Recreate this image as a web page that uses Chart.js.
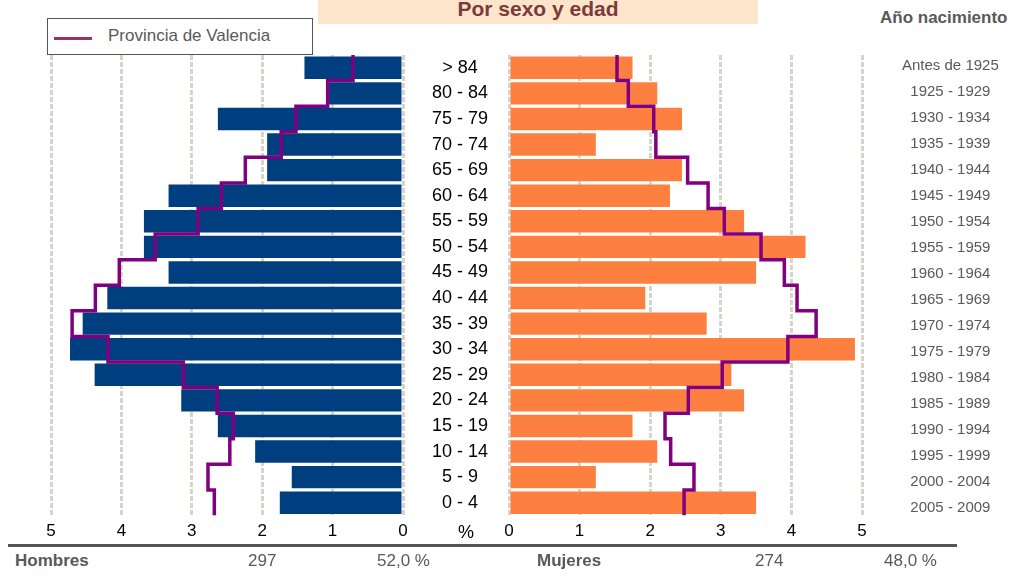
<!DOCTYPE html>
<html>
<head>
<meta charset="utf-8">
<script src="https://cdn.jsdelivr.net/npm/chart.js@4"></script>
<style>
  html, body { margin: 0; padding: 0; background: #fff; overflow: hidden; }
  body { width: 1014px; height: 576px; position: relative; font-family: "Liberation Sans", Arial, sans-serif; }
  canvas { position: absolute; top: 0; }
  .txt { position: absolute; white-space: nowrap; line-height: 20px; color: #595959; }
</style>
</head>
<body>
<div style="position:absolute;left:318px;top:0;width:440px;height:24px;background:#fde5cc;"></div>
<div class="txt" style="left:318px;width:440px;top:-2px;text-align:center;font-size:21px;font-weight:bold;color:#7b3b3b;line-height:22px;">Por sexo y edad</div>
<div class="txt" style="left:880px;top:8px;font-size:17px;font-weight:bold;">Año nacimiento</div>

<div style="position:absolute;left:47px;top:18px;width:264px;height:35px;border:1px solid #555;"></div>
<div style="position:absolute;left:54px;top:37px;width:38px;height:3px;background:#993366;"></div>
<div class="txt" style="left:108px;top:26px;font-size:17px;">Provincia de Valencia</div>

<canvas id="hombres" width="420" height="545" style="left:0"></canvas>
<canvas id="mujeres" width="611" height="545" style="left:403px"></canvas>

<div class="txt" style="left:458px;top:522px;font-size:18px;color:#000;">%</div>
<div style="position:absolute;left:8px;top:544px;width:949px;height:3px;background:#555;"></div>
<div class="txt" style="left:15px;top:551px;font-size:17px;font-weight:bold;">Hombres</div>
<div class="txt" style="left:248px;top:551px;font-size:17px;">297</div>
<div class="txt" style="left:377px;top:551px;font-size:17px;">52,0 %</div>
<div class="txt" style="left:537px;top:551px;font-size:17px;font-weight:bold;">Mujeres</div>
<div class="txt" style="left:755px;top:551px;font-size:17px;">274</div>
<div class="txt" style="left:884px;top:551px;font-size:17px;">48,0 %</div>

<script>
var edades = ["> 84", "80 - 84", "75 - 79", "70 - 74", "65 - 69", "60 - 64", "55 - 59", "50 - 54", "45 - 49",
    "40 - 44", "35 - 39", "30 - 34", "25 - 29", "20 - 24", "15 - 19", "10 - 14", "5 - 9", "0 - 4"];
var nacimiento = ["Antes de 1925", "1925 - 1929", "1930 - 1934", "1935 - 1939", "1940 - 1944", "1945 - 1949",
    "1950 - 1954", "1955 - 1959", "1960 - 1964", "1965 - 1969", "1970 - 1974", "1975 - 1979",
    "1980 - 1984", "1985 - 1989", "1990 - 1994", "1995 - 1999", "2000 - 2004", "2005 - 2009"];

// % sobre el total del municipio
var hombres = [1.40, 1.05, 2.63, 1.93, 1.93, 3.33, 3.68, 3.68, 3.33, 4.20, 4.55, 4.73, 4.38, 3.15, 2.63, 2.10, 1.58, 1.75];
var mujeres = [1.75, 2.10, 2.45, 1.23, 2.45, 2.28, 3.33, 4.20, 3.50, 1.93, 2.80, 4.90, 3.15, 3.33, 1.75, 2.10, 1.23, 3.50];

// Provincia de Valencia
var provHombres = [0.71, 1.07, 1.52, 1.73, 2.24, 2.58, 2.91, 3.52, 4.03, 4.37, 4.70, 4.19, 3.12, 2.64, 2.41, 2.46, 2.77, 2.68];
var provMujeres = [1.53, 1.69, 2.05, 2.08, 2.53, 2.82, 3.05, 3.57, 3.90, 4.08, 4.35, 3.95, 3.02, 2.54, 2.21, 2.29, 2.62, 2.48];

Chart.defaults.font.family = '"Liberation Sans", Arial, sans-serif';

// escalera: cada grupo ocupa su fila entera
function escalera(vals) {
    var pts = [];
    vals.forEach(function(v, i) {
        pts.push({ x: v, y: i - 0.5 });
        pts.push({ x: v, y: i + 0.5 });
    });
    return pts;
}

function ejeX(reverse) {
    return {
        min: 0,
        max: 5,
        reverse: reverse,
        ticks: { stepSize: 1, color: "#000", font: { size: 17 }, padding: 6 },
        grid: { color: "#d8d4cb", lineWidth: 3, drawTicks: false },
        border: { display: false, dash: [5, 2] },
        afterFit: function(s) { s.height = 29.5; }
    };
}

function lineaProv(vals) {
    return {
        type: "line",
        data: escalera(vals),
        xAxisID: "x",
        yAxisID: "yl",
        indexAxis: "y",
        borderColor: "#800080",
        borderWidth: 3.5,
        pointRadius: 0,
        fill: false,
        order: 0
    };
}

function barras(vals, color) {
    return {
        data: vals,
        xAxisID: "x",
        yAxisID: "y",
        backgroundColor: color,
        barPercentage: 0.875,
        categoryPercentage: 1,
        grouped: false,
        order: 1
    };
}

// los ejes de texto no deben encoger el area del grafico
function anchoFijo(w) {
    return function(s) {
        s.width = w;
        s.paddingTop = 0;
        s.paddingBottom = 0;
    };
}

var ejeLinea = { type: "linear", display: false, offset: false, min: -0.5, max: 17.5, reverse: true, grid: { offset: false } };

new Chart(document.getElementById("hombres"), {
    type: "bar",
    data: {
        labels: edades,
        datasets: [lineaProv(provHombres), barras(hombres, "#003f7f")]
    },
    options: {
        indexAxis: "y",
        responsive: false,
        animation: false,
        layout: { padding: { left: 51, right: 17, top: 55, bottom: 0 } },
        plugins: { legend: { display: false }, tooltip: { enabled: false } },
        scales: {
            x: ejeX(true),
            y: { display: false },
            yl: ejeLinea
        }
    }
});

new Chart(document.getElementById("mujeres"), {
    type: "bar",
    data: {
        labels: edades,
        datasets: [lineaProv(provMujeres), barras(mujeres, "#fe8040")]
    },
    options: {
        indexAxis: "y",
        responsive: false,
        animation: false,
        layout: { padding: { left: 0, right: 0, top: 55, bottom: 0 } },
        plugins: { legend: { display: false }, tooltip: { enabled: false } },
        scales: {
            x: ejeX(false),
            y: {
                position: "left",
                grid: { display: false, drawTicks: false },
                border: { display: false },
                ticks: { autoSkip: false, crossAlign: "center", padding: 21, color: "#000", font: { size: 18 } },
                afterFit: anchoFijo(106)
            },
            y2: {
                type: "linear",
                position: "right",
                offset: false,
                min: -0.4,
                max: 17.3,
                reverse: true,
                grid: { display: false, drawTicks: false, offset: false },
                border: { display: false },
                afterBuildTicks: function(s) {
                    s.ticks = nacimiento.map(function(t, i) { return { value: i }; });
                },
                ticks: {
                    autoSkip: false,
                    crossAlign: "center",
                    padding: 40,
                    color: "#595959",
                    font: { size: 15 },
                    callback: function(v, i) { return nacimiento[i]; }
                },
                afterFit: anchoFijo(152)
            },
            yl: ejeLinea
        }
    }
});
</script>
</body>
</html>
